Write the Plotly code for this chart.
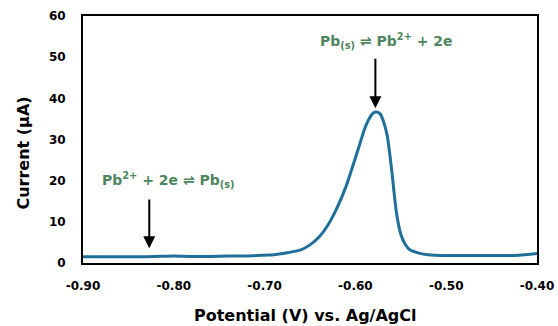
import plotly.graph_objects as go

potential = [-0.90, -0.88, -0.86, -0.84, -0.82, -0.80, -0.78, -0.76, -0.74, -0.72,
             -0.70, -0.69, -0.68, -0.67, -0.66, -0.65, -0.64, -0.63, -0.62, -0.61,
             -0.60, -0.595, -0.59, -0.585, -0.58, -0.577, -0.573, -0.57, -0.565, -0.56,
             -0.555, -0.55, -0.545, -0.54, -0.53, -0.52, -0.50, -0.48, -0.46, -0.44,
             -0.42, -0.40]
current = [1.5, 1.5, 1.5, 1.5, 1.6, 1.7, 1.6, 1.6, 1.7, 1.7,
           1.9, 2.0, 2.3, 2.7, 3.2, 4.4, 6.3, 9.3, 13.5, 18.8,
           25.5, 29.0, 32.5, 35.0, 36.5, 36.7, 36.3, 35.0, 31.0, 22.5,
           12.5, 7.0, 4.5, 3.2, 2.4, 2.0, 1.8, 1.8, 1.8, 1.8,
           1.9, 2.3]

x_ticks = [-0.90, -0.80, -0.70, -0.60, -0.50, -0.40]
x_tick_labels = ["-0.90", "-0.80", "-0.70", "-0.60", "-0.50", "-0.40"]
y_ticks = [0, 10, 20, 30, 40, 50, 60]

x_title = "Potential (V) vs. Ag/AgCl"
y_title = "Current (μA)"

FONT = "DejaVu Sans"
GREEN = "#4e8560"

fig = go.Figure()
fig.add_trace(go.Scatter(x=potential, y=current, mode="lines",
                         line=dict(color="#1f6f99", width=3, shape="spline", smoothing=0.6),
                         showlegend=False, hoverinfo="skip"))

fig.update_layout(
    width=558, height=326,
    margin=dict(l=83, r=21, t=16, b=63),
    paper_bgcolor="white", plot_bgcolor="white",
    font=dict(family=FONT, color="black"),
    xaxis=dict(range=[-0.90, -0.40], tickvals=x_ticks, ticktext=x_tick_labels,
               showgrid=False, zeroline=False, showline=True, linecolor="black",
               linewidth=2, mirror=True, ticks="", ticklabelstandoff=11, automargin=False,
               tickfont=dict(size=12, family=FONT, weight="bold")),
    yaxis=dict(range=[0, 60], tickvals=y_ticks,
               showgrid=False, zeroline=False, showline=True, linecolor="black",
               linewidth=2, mirror=True, ticks="", ticklabelstandoff=13, automargin=False,
               tickfont=dict(size=12, family=FONT, weight="bold")),
)

# axis titles
fig.add_annotation(x=0.489, y=0, xref="paper", yref="paper", yshift=-52,
                   xanchor="center", yanchor="middle", text=x_title, showarrow=False,
                   font=dict(size=16, family=FONT, weight="bold", color="black"))
fig.add_annotation(x=0, y=0.443, xref="paper", yref="paper", xshift=-59,
                   xanchor="center", yanchor="middle", text=y_title, showarrow=False,
                   textangle=-90,
                   font=dict(size=16, family=FONT, weight="bold", color="black"))

fig.add_annotation(x=-0.566, y=54.0, xref="x", yref="y",
                   text="Pb<sub>(s)</sub> ⇌ Pb<sup>2+</sup> + 2e", showarrow=False,
                   font=dict(size=14, color=GREEN, family=FONT, weight="bold"))
fig.add_annotation(x=-0.806, y=20.2, xref="x", yref="y",
                   text="Pb<sup>2+</sup> + 2e ⇌ Pb<sub>(s)</sub>", showarrow=False,
                   font=dict(size=14, color=GREEN, family=FONT, weight="bold"))

fig.add_annotation(x=-0.578, y=37.6, ax=-0.578, ay=50.0, xref="x", yref="y",
                   axref="x", ayref="y", text="", showarrow=True,
                   arrowhead=2, arrowsize=1.2, arrowwidth=2, arrowcolor="black")
fig.add_annotation(x=-0.827, y=3.6, ax=-0.827, ay=15.8, xref="x", yref="y",
                   axref="x", ayref="y", text="", showarrow=True,
                   arrowhead=2, arrowsize=1.2, arrowwidth=2, arrowcolor="black")

fig.write_html("out.html")
